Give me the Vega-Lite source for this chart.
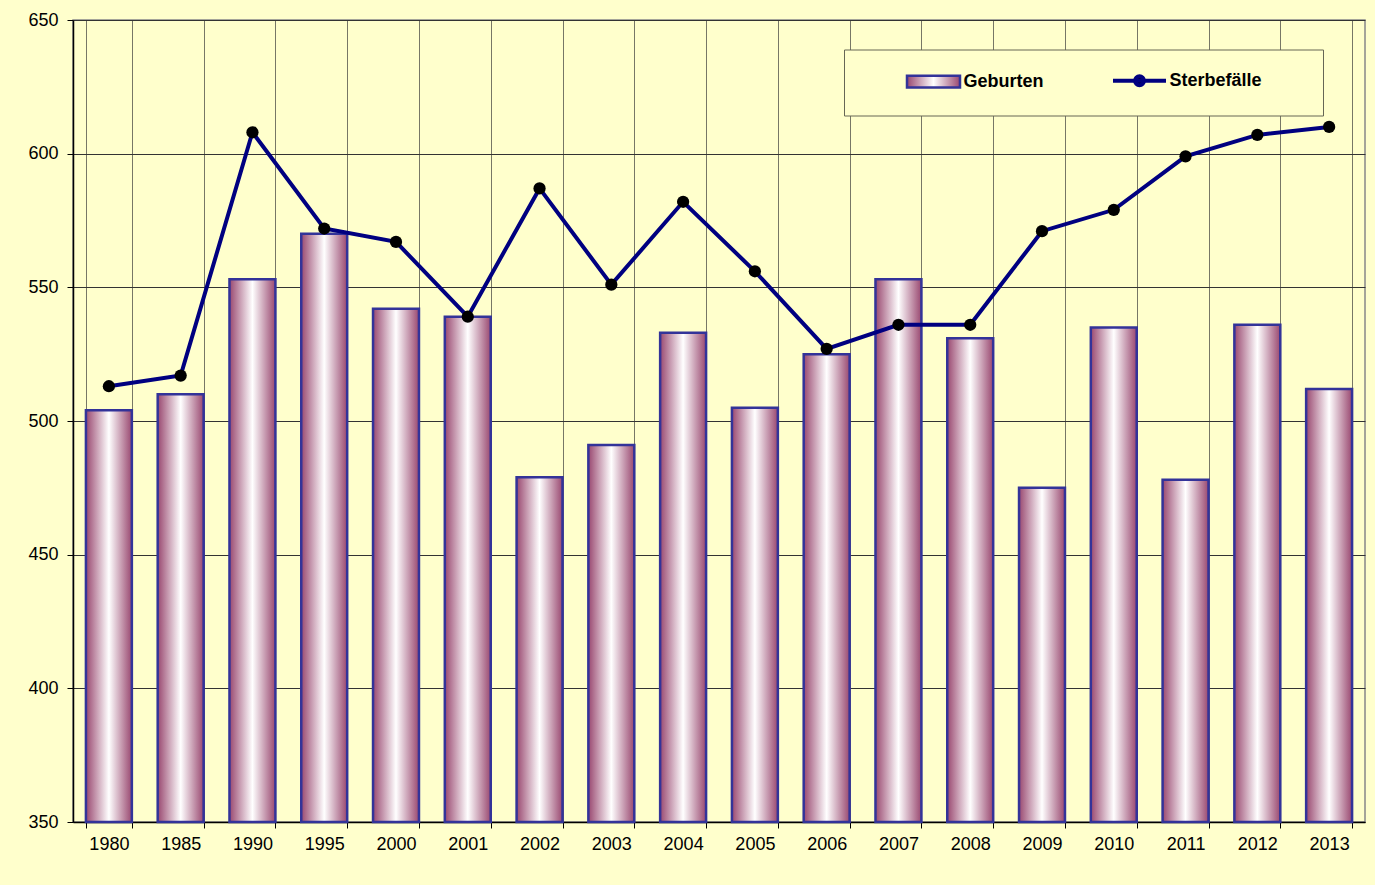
{
  "$schema": "https://vega.github.io/schema/vega-lite/v6.json",
  "width": 1292,
  "height": 802,
  "autosize": {"type": "none"},
  "padding": {"left": 73, "top": 20, "right": 10, "bottom": 63},
  "background": "#FFFFCC",
  "config": {
    "view": {"fill": "#FFFFCC", "stroke": "#888888", "strokeWidth": 1.5},
    "font": "Liberation Sans"
  },
  "data": {
    "values": [
      {"Jahr": "1980", "Geburten": 504, "Sterbefälle": 513},
      {"Jahr": "1985", "Geburten": 510, "Sterbefälle": 517},
      {"Jahr": "1990", "Geburten": 553, "Sterbefälle": 608},
      {"Jahr": "1995", "Geburten": 570, "Sterbefälle": 572},
      {"Jahr": "2000", "Geburten": 542, "Sterbefälle": 567},
      {"Jahr": "2001", "Geburten": 539, "Sterbefälle": 539},
      {"Jahr": "2002", "Geburten": 479, "Sterbefälle": 587},
      {"Jahr": "2003", "Geburten": 491, "Sterbefälle": 551},
      {"Jahr": "2004", "Geburten": 533, "Sterbefälle": 582},
      {"Jahr": "2005", "Geburten": 505, "Sterbefälle": 556},
      {"Jahr": "2006", "Geburten": 525, "Sterbefälle": 527},
      {"Jahr": "2007", "Geburten": 553, "Sterbefälle": 536},
      {"Jahr": "2008", "Geburten": 531, "Sterbefälle": 536},
      {"Jahr": "2009", "Geburten": 475, "Sterbefälle": 571},
      {"Jahr": "2010", "Geburten": 535, "Sterbefälle": 579},
      {"Jahr": "2011", "Geburten": 478, "Sterbefälle": 599},
      {"Jahr": "2012", "Geburten": 536, "Sterbefälle": 607},
      {"Jahr": "2013", "Geburten": 512, "Sterbefälle": 610}
    ]
  },
  "encoding": {
    "x": {
      "field": "Jahr",
      "type": "ordinal",
      "scale": {"paddingInner": 0.36, "paddingOuter": 0.18},
      "axis": {
        "title": null,
        "labelAngle": 0,
        "labelFontSize": 18,
        "labelColor": "#000000",
        "labelPadding": 7,
        "tickBand": "extent",
        "tickSize": 6,
        "tickColor": "#000000",
        "domainColor": "#000000",
        "domainWidth": 1.5,
        "grid": true,
        "gridColor": "#777766",
        "gridWidth": 1
      }
    }
  },
  "layer": [
    {
      "mark": {
        "type": "bar",
        "fill": {
          "gradient": "linear",
          "x1": 0, "y1": 0, "x2": 1, "y2": 0,
          "stops": [
            {"offset": 0, "color": "#994870"},
            {"offset": 0.5, "color": "#FFFFFF"},
            {"offset": 1, "color": "#994870"}
          ]
        },
        "stroke": "#333399",
        "strokeWidth": 2.5
      },
      "encoding": {
        "y": {
          "field": "Geburten",
          "type": "quantitative",
          "scale": {"domain": [350, 650], "nice": false, "zero": false},
          "axis": {
            "title": null,
            "values": [350, 400, 450, 500, 550, 600, 650],
            "labelFontSize": 18,
            "labelColor": "#000000",
            "labelPadding": 9,
            "tickSize": 6,
            "tickColor": "#000000",
            "domainColor": "#000000",
            "domainWidth": 1.5,
            "grid": true,
            "gridColor": "#333333",
            "gridWidth": 1
          }
        },
        "y2": {"datum": 350}
      }
    },
    {
      "mark": {"type": "line", "strokeWidth": 4},
      "encoding": {
        "y": {"field": "Sterbefälle", "type": "quantitative"},
        "stroke": {
          "datum": "Sterbefälle",
          "type": "nominal",
          "scale": {"domain": ["Geburten", "Sterbefälle"], "range": ["#333399", "#000080"]},
          "legend": {
            "title": null,
            "orient": "none",
            "legendX": 771,
            "legendY": 29.5,
            "direction": "horizontal",
            "padding": 22,
            "symbolOffset": 58.5,
            "columnPadding": 28,
            "labelOffset": 21,
            "labelFontSize": 18,
            "labelFontWeight": "bold",
            "labelColor": "#000000",
            "labelLimit": 400,
            "symbolSize": 2809,
            "fillColor": "#FFFFCC",
            "strokeColor": "#666655",
            "labelExpr": "datum.label == 'Geburten' ? 'Geburten' : 'Sterbefälle\u2800\u2800\u2800'",
            "encode": {
              "symbols": {
                "update": {
                  "shape": {"signal": "datum.value == 'Geburten' ? 'M-1,-0.22H1V0.22H-1Z' : 'M-1,0H1M0.17,0A0.17,0.17,0,1,1,-0.17,0A0.17,0.17,0,1,1,0.17,0Z'"},
                  "fill": {"signal": "datum.value == 'Geburten' ? {gradient: 'linear', x1: 0, y1: 0, x2: 1, y2: 0, stops: [{offset: 0, color: '#994870'}, {offset: 0.5, color: '#FFFFFF'}, {offset: 1, color: '#994870'}]} : '#000000'"},
                  "stroke": {"signal": "datum.value == 'Geburten' ? '#333399' : {gradient: 'linear', x1: 0, y1: 0, x2: 1, y2: 0, stops: [{offset: 0, color: '#000080'}, {offset: 0.37, color: '#000080'}, {offset: 0.37, color: '#000000'}, {offset: 0.63, color: '#000000'}, {offset: 0.63, color: '#000080'}, {offset: 1, color: '#000080'}]}"},
                  "strokeWidth": {"signal": "datum.value == 'Geburten' ? 2.5 : 4"},
                  "opacity": {"value": 1}
                }
              }
            }
          }
        }
      }
    },
    {
      "mark": {"type": "point", "filled": true, "color": "#000000", "opacity": 1, "size": 150},
      "encoding": {
        "y": {"field": "Sterbefälle", "type": "quantitative"}
      }
    }
  ]
}
